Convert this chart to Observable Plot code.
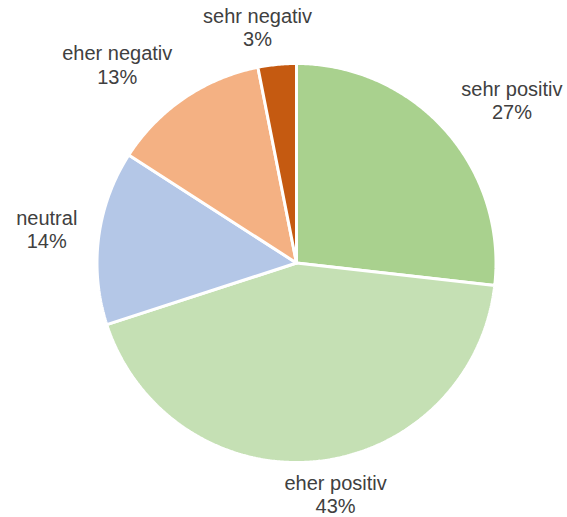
<!DOCTYPE html>
<html>
<head>
<meta charset="utf-8">
<script src="https://cdn.jsdelivr.net/npm/d3@7"></script>
<script src="https://cdn.jsdelivr.net/npm/@observablehq/plot@0.6"></script>
<style>
  html, body { margin: 0; padding: 0; background: #ffffff; }
</style>
</head>
<body>
<div id="chart"></div>
<script>
// ---- data ----
const categories = ["sehr positiv", "eher positiv", "neutral", "eher negativ", "sehr negativ"];
const shares = [26.8, 43.2, 14.1, 12.8, 3.1];
const percentLabels = ["27%", "43%", "14%", "13%", "3%"];
const sliceColors = ["#a9d18e", "#c5e0b4", "#b4c7e7", "#f4b183", "#c55a11"];

// ---- layout ----
const W = 567, H = 517;
const CX = 296, CY = 262.5, PX = 199.5;   // pie centre and radius (px per data unit)
const FONT = "'Liberation Sans', Arial, sans-serif";
const FS = 20, LH = 1.17;

const pie = d3.pie().sort(null).value(d => d.value)(
  categories.map((c, i) => ({category: c, value: shares[i], pct: percentLabels[i]}))
);

// slice outlines (centre -> arc -> centre) in data units, radius 1
const slicePts = [];
pie.forEach(p => {
  const n = Math.max(2, Math.ceil((p.endAngle - p.startAngle) / (Math.PI / 360)));
  slicePts.push({category: p.data.category, x: 0, y: 0});
  for (let k = 0; k <= n; k++) {
    const a = p.startAngle + (p.endAngle - p.startAngle) * k / n;
    slicePts.push({category: p.data.category, x: Math.sin(a), y: Math.cos(a)});
  }
  slicePts.push({category: p.data.category, x: 0, y: 0});
});

// label placement outside the pie (outside-end style)
const ctx = document.createElement("canvas").getContext("2d");
ctx.font = `${FS}px ${FONT}`;
const clamp = t => Math.max(-1, Math.min(1, t));
const labels = pie.map(p => {
  const a = (p.startAngle + p.endAngle) / 2;
  const s = Math.sin(a), c = Math.cos(a);
  const text = p.data.category + "\n" + p.data.pct;
  const w = Math.max(...text.split("\n").map(t => ctx.measureText(t).width));
  const r = 221, h2 = 13.5, kx = 3.3, ky = 2, lift = 2.3;
  const ox = r * s + (w / 2) * clamp(kx * s);
  const oy = r * c + h2 * clamp(ky * c) + lift;
  return {text, x: ox / PX, y: oy / PX};
});

const chart = Plot.plot({
  width: W,
  height: H,
  marginLeft: 0, marginRight: 0, marginTop: 0, marginBottom: 0,
  x: {domain: [-1, 1], range: [CX - PX, CX + PX], axis: null},
  y: {domain: [-1, 1], range: [CY + PX, CY - PX], axis: null},
  color: {domain: categories, range: sliceColors},
  style: {fontFamily: FONT, fontSize: FS + "px", background: "#ffffff", overflow: "visible"},
  marks: [
    ...categories.map(cat => Plot.line(slicePts.filter(d => d.category === cat), {
      x: "x", y: "y", fill: sliceColors[categories.indexOf(cat)],
      stroke: "#ffffff", strokeWidth: 3, strokeLinejoin: "miter", curve: "linear"
    })),
    Plot.text(labels, {
      x: "x", y: "y", text: "text", fill: "#404040",
      fontSize: FS, lineHeight: LH, textAnchor: "middle"
    })
  ]
});
document.getElementById("chart").appendChild(chart);
</script>
</body>
</html>
